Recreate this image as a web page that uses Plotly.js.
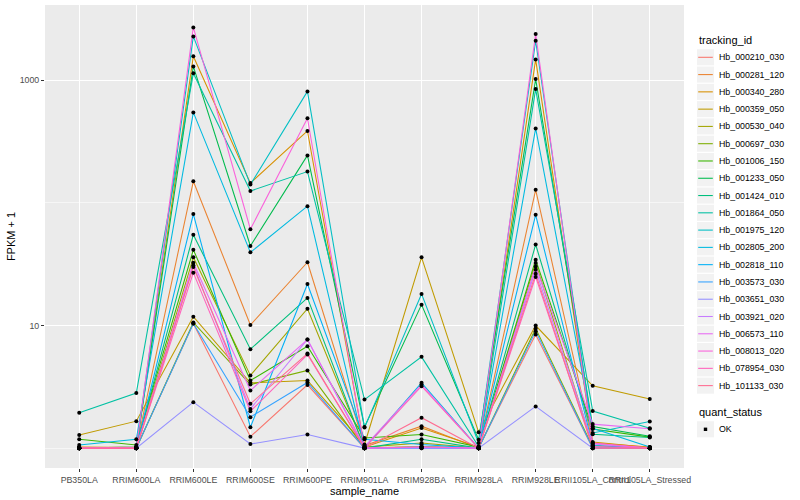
<!DOCTYPE html>
<html>
<head>
<meta charset="utf-8">
<script src="https://cdn.plot.ly/plotly-3.0.1.min.js"></script>
<style>html,body{margin:0;padding:0;background:#fff;}#chart{width:800px;height:500px;}</style>
</head>
<body>
<div id="chart"></div>
<script>
// ---- data ----
const samples = ["PB350LA","RRIM600LA","RRIM600LE","RRIM600SE","RRIM600PE","RRIM901LA","RRIM928BA","RRIM928LA","RRIM928LE","RRII105LA_Control","RRII105LA_Stressed"];
const trackingIds = ["Hb_000210_030","Hb_000281_120","Hb_000340_280","Hb_000359_050","Hb_000530_040","Hb_000697_030","Hb_001006_150","Hb_001233_050","Hb_001424_010","Hb_001864_050","Hb_001975_120","Hb_002805_200","Hb_002818_110","Hb_003573_030","Hb_003651_030","Hb_003921_020","Hb_006573_110","Hb_008013_020","Hb_078954_030","Hb_101133_030"];
const colors = ["#F8766D","#EA8331","#D89000","#C09B00","#A3A500","#7CAE00","#39B600","#00BB4E","#00BF7D","#00C1A3","#00BFC4","#00BAE0","#00B0F6","#35A2FF","#9590FF","#C77CFF","#E76BF3","#FA62DB","#FF62BC","#FF6C91"];
const Hb_000210_030 = [1.01, 1.0, 10.4, 1.24, 3.28, 1.0, 1.02, 1.0, 8.45, 1.0, 1.0];
const Hb_000281_120 = [1.0, 1.02, 150, 10.1, 32.8, 1.05, 1.51, 1.0, 128, 1.1, 1.02];
const Hb_000340_280 = [1.02, 1.01, 1570, 145, 386, 1.02, 1.46, 1.02, 1480, 1.12, 1.01];
const Hb_000359_050 = [1.28, 1.66, 11.8, 3.41, 3.56, 1.07, 36, 1.35, 10.0, 3.22, 2.52];
const Hb_000530_040 = [1.0, 1.01, 36, 3.92, 13.7, 1.02, 1.1, 1.0, 32.4, 1.05, 1.0];
const Hb_000697_030 = [1.0, 1.0, 10.6, 3.30, 4.30, 1.0, 1.03, 1.0, 9.45, 1.02, 1.0];
const Hb_001006_150 = [1.18, 1.06, 41.5, 3.56, 6.78, 1.21, 1.29, 1.02, 34.4, 1.43, 1.23];
const Hb_001233_050 = [1.01, 1.0, 1298, 44.5, 244, 1.49, 14.8, 1.17, 1023, 1.5, 1.25];
const Hb_001424_010 = [1.0, 1.02, 55, 6.41, 16.8, 1.0, 1.18, 1.0, 45.8, 1.3, 1.22];
const Hb_001864_050 = [1.94, 2.81, 1140, 125, 180, 2.49, 5.55, 1.03, 848, 2.01, 1.45];
const Hb_001975_120 = [1.0, 1.01, 2280, 141, 812, 1.47, 18.1, 1.1, 2100, 1.33, 1.65];
const Hb_002805_200 = [1.06, 1.18, 547, 39.5, 94, 1.0, 3.41, 1.0, 405, 1.45, 1.02];
const Hb_002818_110 = [1.0, 1.0, 81, 1.48, 21.8, 1.18, 1.07, 1.0, 80, 1.05, 1.0];
const Hb_003573_030 = [1.0, 1.0, 10.4, 1.79, 3.43, 1.0, 1.0, 1.0, 9.0, 1.0, 1.0];
const Hb_003651_030 = [1.0, 1.0, 2.37, 1.08, 1.29, 1.0, 1.0, 1.0, 2.19, 1.0, 1.0];
const Hb_003921_020 = [1.0, 1.0, 31, 2.09, 7.69, 1.0, 1.02, 1.0, 28.5, 1.08, 1.0];
const Hb_006573_110 = [1.0, 1.01, 32.5, 2.95, 7.69, 1.03, 3.3, 1.0, 30.3, 1.57, 1.44];
const Hb_008013_020 = [1.0, 1.0, 2700, 61, 490, 1.0, 1.02, 1.0, 2380, 1.1, 1.0];
const Hb_078954_030 = [1.0, 1.0, 27, 2.00, 5.8, 1.0, 3.2, 1.0, 24.9, 1.03, 1.0];
const Hb_101133_030 = [1.0, 1.0, 30, 2.30, 5.9, 1.0, 1.77, 1.0, 26.4, 1.0, 1.0];
const seriesValues = [Hb_000210_030,Hb_000281_120,Hb_000340_280,Hb_000359_050,Hb_000530_040,Hb_000697_030,Hb_001006_150,Hb_001233_050,Hb_001424_010,Hb_001864_050,Hb_001975_120,Hb_002805_200,Hb_002818_110,Hb_003573_030,Hb_003651_030,Hb_003921_020,Hb_006573_110,Hb_008013_020,Hb_078954_030,Hb_101133_030];
const yTickVals = [10, 1000];
const yTickText = ["10", "1000"];
const yMinorVals = [1, 100];
const quantStatus = ["OK"];

// ---- geometry helpers ----
const FONT = "Liberation Sans, Arial, Helvetica, sans-serif";
const M = {l: 45, r: 116, t: 5, b: 32};
const W = 800, H = 500;
const PW = W - M.l - M.r, PH = H - M.t - M.b;
const px = x => (x - M.l) / PW;
const py = y => (H - M.b - y) / PH;

// ---- traces ----
const traces = [];
trackingIds.forEach((id, i) => {
  traces.push({
    type: "scatter", mode: "lines", name: id,
    x: samples, y: seriesValues[i],
    line: {color: colors[i], width: 1.07},
    hoverinfo: "name+y", showlegend: false
  });
});
const allX = [], allY = [];
seriesValues.forEach(v => v.forEach((val, j) => { allX.push(samples[j]); allY.push(val); }));
traces.push({
  type: "scatter", mode: "markers", name: quantStatus[0],
  x: allX, y: allY,
  marker: {color: "#000000", size: 4, symbol: "circle"},
  showlegend: false, cliponaxis: false
});

// ---- custom ggplot-style legend ----
const shapes = [], annotations = [];
const keyX0 = 697, keyX1 = 714, step = 17.28, first = 57.3;
annotations.push({xref: "paper", yref: "paper", x: px(697), y: py(40), xanchor: "left", yanchor: "middle",
  text: "tracking_id", showarrow: false, font: {family: FONT, size: 11, color: "#000"}});
trackingIds.forEach((id, i) => {
  const cy = first + step * i;
  shapes.push({type: "rect", xref: "paper", yref: "paper", x0: px(keyX0), x1: px(keyX1),
    y0: py(cy + step / 2 - 0.6), y1: py(cy - step / 2 + 0.6), fillcolor: "#F2F2F2", line: {width: 0}, layer: "below"});
  shapes.push({type: "line", xref: "paper", yref: "paper", x0: px(keyX0 + 1.2), x1: px(keyX1 - 1.2),
    y0: py(cy), y1: py(cy), line: {color: colors[i], width: 1.07}});
  annotations.push({xref: "paper", yref: "paper", x: px(716.5), y: py(cy), xanchor: "left", yanchor: "middle",
    text: id, showarrow: false, font: {family: FONT, size: 8.8, color: "#000"}});
});
annotations.push({xref: "paper", yref: "paper", x: px(697), y: py(412), xanchor: "left", yanchor: "middle",
  text: "quant_status", showarrow: false, font: {family: FONT, size: 11, color: "#000"}});
const okY = 429.3;
shapes.push({type: "rect", xref: "paper", yref: "paper", x0: px(keyX0), x1: px(keyX1),
  y0: py(okY + step / 2 - 0.6), y1: py(okY - step / 2 + 0.6), fillcolor: "#F2F2F2", line: {width: 0}, layer: "below"});
shapes.push({type: "rect", xref: "paper", yref: "paper", x0: px(703.8), x1: px(707.2),
  y0: py(okY + 1.7), y1: py(okY - 1.7), fillcolor: "#000", line: {width: 0}});
annotations.push({xref: "paper", yref: "paper", x: px(716.5), y: py(okY), xanchor: "left", yanchor: "middle",
  text: quantStatus[0], showarrow: false, font: {family: FONT, size: 8.8, color: "#000"}});

const layout = {
  width: W, height: H,
  margin: M,
  paper_bgcolor: "#FFFFFF",
  plot_bgcolor: "#EBEBEB",
  font: {family: FONT, size: 8.8, color: "#4D4D4D"},
  showlegend: false,
  xaxis: {
    type: "category", categoryorder: "array", categoryarray: samples,
    range: [-0.6, samples.length - 0.4],
    showgrid: true, gridcolor: "#FFFFFF", gridwidth: 1.07,
    zeroline: false, showline: false,
    ticks: "outside", ticklen: 3, tickwidth: 1.07, tickcolor: "#333333",
    tickangle: 0, tickfont: {family: FONT, size: 8.8, color: "#4D4D4D"},
    title: {text: "sample_name", font: {family: FONT, size: 11, color: "#000"}, standoff: 0}
  },
  yaxis: {
    type: "log", range: [-0.162, 3.614],
    tickmode: "array", tickvals: yTickVals, ticktext: yTickText,
    showgrid: true, gridcolor: "#FFFFFF", gridwidth: 1.07,
    minor: {tickmode: "array", tickvals: yMinorVals, showgrid: true, gridcolor: "#FFFFFF", gridwidth: 0.53, ticks: ""},
    zeroline: false, showline: false,
    ticks: "outside", ticklen: 3, tickwidth: 1.07, tickcolor: "#333333",
    tickfont: {family: FONT, size: 8.8, color: "#4D4D4D"},
    title: {text: "FPKM + 1", font: {family: FONT, size: 11, color: "#000"}, standoff: 1}
  },
  shapes: shapes,
  annotations: annotations
};

Plotly.newPlot("chart", traces, layout, {staticPlot: true, displayModeBar: false});
</script>
</body>
</html>
